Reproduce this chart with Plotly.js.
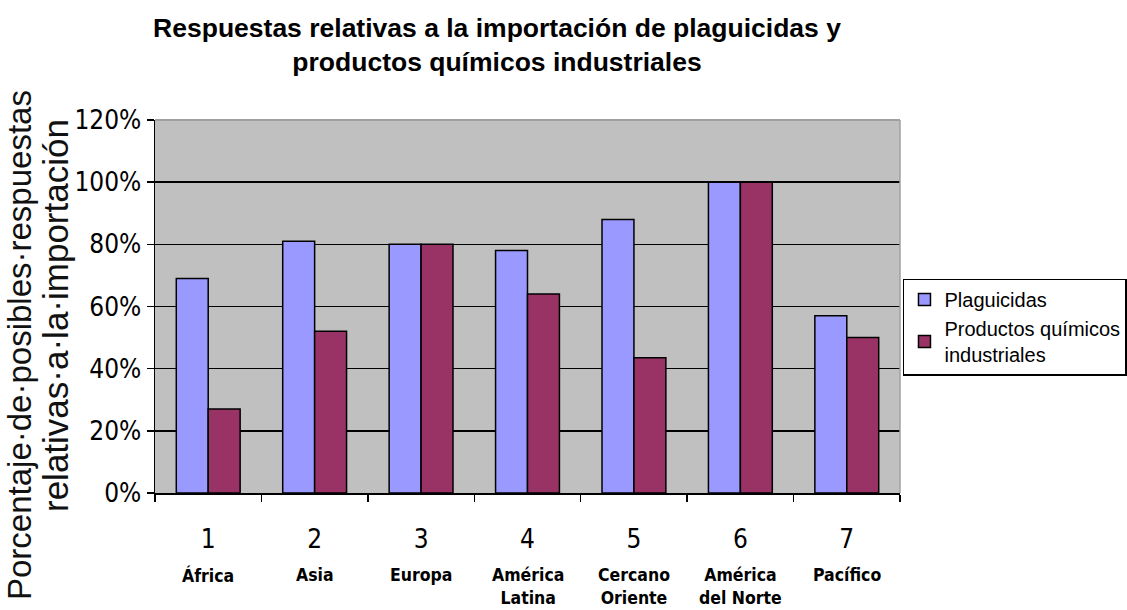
<!DOCTYPE html>
<html>
<head>
<meta charset="utf-8">
<script src="https://cdn.plot.ly/plotly-3.0.1.min.js"></script>
<style>html,body{margin:0;padding:0;background:#fff;}#chart{width:1127px;height:610px;}</style>
</head>
<body>
<div id="chart"></div>
<script>
const categories = ['1','2','3','4','5','6','7'];
const regionNames = ['África','Asia','Europa','América<br>Latina','Cercano<br>Oriente','América<br>del Norte','Pacífico'];
const plaguicidas = [0.69, 0.81, 0.80, 0.78, 0.88, 1.00, 0.57];
const productosQuimicos = [0.27, 0.52, 0.80, 0.64, 0.435, 1.00, 0.50];
const seriesNames = ['Plaguicidas', 'Productos químicos<br>industriales'];
const yTickVals = [0, 0.2, 0.4, 0.6, 0.8, 1.0, 1.2];
const yTickText = ['0%','20%','40%','60%','80%','100%','120%'];
const yTitleLines = ['Porcentaje·de·posibles·respuestas', 'relativas·a·la·importación'];

const cond = '"DejaVu Sans Condensed", "Liberation Sans", Arial, sans-serif';
const sans = '"Liberation Sans", Arial, sans-serif';

const traces = [
  {type:'bar', name: seriesNames[0], x: categories, y: plaguicidas,
   marker:{color:'#9999ff', line:{color:'#000', width:1.5}}},
  {type:'bar', name: seriesNames[1], x: categories, y: productosQuimicos,
   marker:{color:'#993366', line:{color:'#000', width:1.5}}}
];

const annotations = regionNames.map((n, i) => ({
  x: i, xref:'x', y: 0, yref:'paper', yanchor:'top', yshift:-70,
  text: '<b>' + n + '</b>', showarrow:false, align:'center',
  font:{family: cond, size:17.5, color:'#000'}
}));
const yTitleX = [-136, -100];
const yTitleY = [148, 177];
const yTitleSize = [33, 35];
yTitleLines.forEach((t, i) => annotations.push({
  x: 0, xref:'paper', xshift: yTitleX[i], y: 0, yref:'paper', yshift: yTitleY[i],
  xanchor:'center', yanchor:'middle', textangle:-90,
  text: t, showarrow:false, font:{family: sans, size:yTitleSize[i], color:'#111'}
}));

const layout = {
  width:1127, height:610,
  margin:{l:155, r:227, t:120, b:117, autoexpand:false},
  paper_bgcolor:'#fff', plot_bgcolor:'#c0c0c0',
  title:{text:'<b>Respuestas relativas a la importación de plaguicidas y<br>productos químicos industriales</b>',
         x:0.441, xref:'container', xanchor:'center', y:0.94, yref:'container', yanchor:'top',
         font:{family: sans, size:26.5, color:'#000'}},
  barmode:'group', bargap:0.4, bargroupgap:0,
  xaxis:{type:'category', showline:true, linecolor:'#000', linewidth:1.5,
         ticks:'outside', tickson:'boundaries', ticklen:7, tickcolor:'#000', tickwidth:1.5,
         ticklabelstandoff:22,
         tickfont:{family: cond, size:26, color:'#000'}, showgrid:false},
  yaxis:{range:[0,1.2], tickvals:yTickVals, ticktext:yTickText,
         showline:true, linecolor:'#000', linewidth:1.5,
         ticks:'outside', ticklen:7, tickcolor:'#000', tickwidth:1.5,
         showgrid:true, gridcolor:'#000', gridwidth:1.5, zeroline:false,
         tickfont:{family: cond, size:26, color:'#000'}},
  legend:{x:1.004, xanchor:'left', y:0.445, yanchor:'middle',
          bgcolor:'#fff', bordercolor:'#000', borderwidth:1.5,
          font:{family: sans, size:20, color:'#000'},
          tracegroupgap:6, traceorder:'normal'},
  annotations: annotations,
  shapes:[{type:'line', xref:'paper', yref:'paper', x0:0, x1:1, y0:1, y1:1,
           line:{color:'#a0a0a0', width:2}},
          {type:'line', xref:'paper', yref:'paper', x0:1, x1:1, y0:0, y1:1,
           line:{color:'#a0a0a0', width:1.5}}],
  showlegend:true
};

Plotly.newPlot('chart', traces, layout, {displayModeBar:false, staticPlot:true});
</script>
</body>
</html>
